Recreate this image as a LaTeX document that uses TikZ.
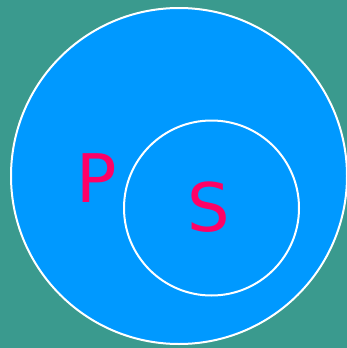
\documentclass[tikz,border=0pt]{standalone}
\usepackage{fontspec}
\setmainfont{DejaVu Sans}
\definecolor{cBack}{HTML}{3A9A8E}
\definecolor{cSet}{HTML}{0099FF}
\definecolor{cLabel}{HTML}{FF0066}
\tikzset{
  setcircle/.style={circle, draw=white, fill=cSet, line width=2pt, inner sep=0pt},
  setlabel/.style={text=cLabel, anchor=base, inner sep=0pt,
    font=\fontsize{67}{67}\selectfont},
}
\begin{document}
\begin{tikzpicture}[x=1pt, y=-1pt]

  % background
  \fill[cBack] (0,0) rectangle (347,348);
  \useasboundingbox (0,0) rectangle (347,348);

  % ----------------------------------------------------------------
  % Sets: P contains S
  % ----------------------------------------------------------------
  \node[setcircle, minimum size=336pt] (setP) at (179,176) {};
  \node[setcircle, minimum size=175pt] (setS) at (211.5,208) {};

  \node[setlabel] (labelP) at (97,202) {P};
  \node[setlabel] (labelS) at (209,231.5) {S};

\end{tikzpicture}
\end{document}
